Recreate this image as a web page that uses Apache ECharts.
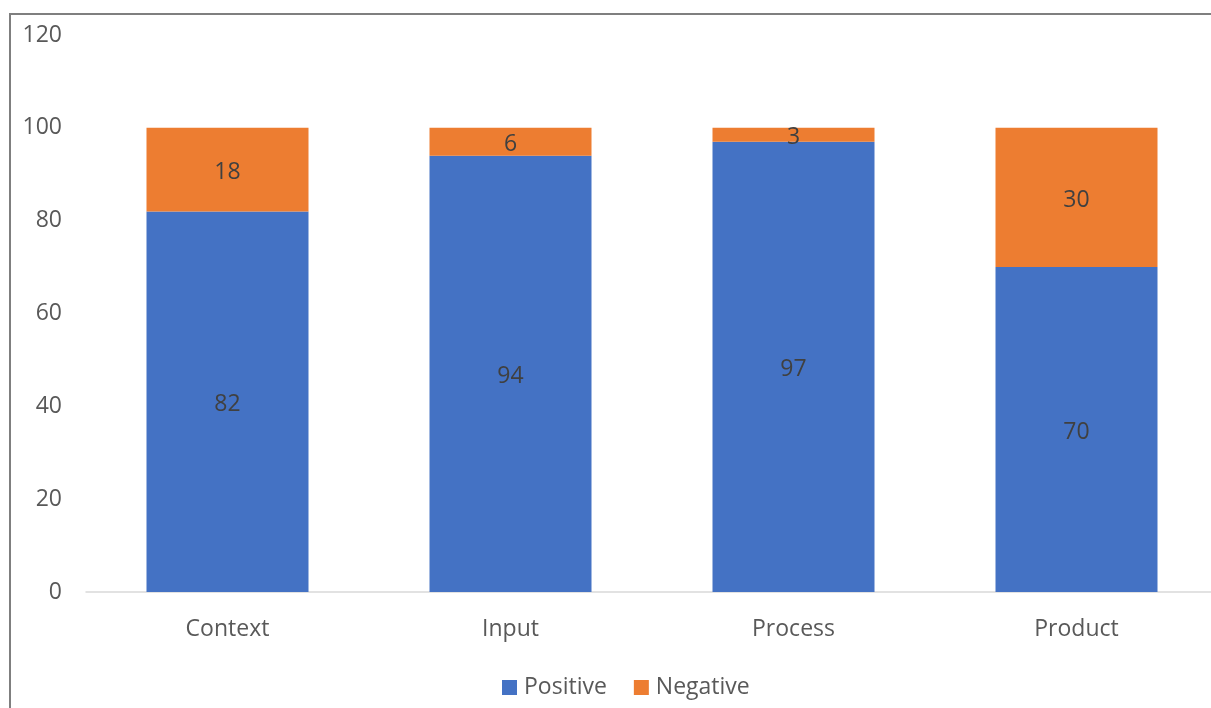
<!DOCTYPE html>
<html>
<head>
<meta charset="utf-8">
<script src="https://cdn.jsdelivr.net/npm/echarts@6/dist/echarts.min.js"></script>
<style>
  html, body { margin: 0; padding: 0; background: #fff; overflow: hidden; }
  #frame { position: absolute; left: 9px; top: 13px; width: 1300px; height: 800px;
           border-top: 2px solid #7f7f7f; border-left: 2px solid #7f7f7f; }
  #chart { position: absolute; left: 0; top: 0; width: 1240px; height: 708px; }
</style>
</head>
<body>
<div id="frame"></div>
<div id="chart"></div>
<script>
// Survey dimensions and the share of positive / negative responses
const categories = ['Context', 'Input', 'Process', 'Product'];
const positive = [82, 94, 97, 70];
const negative = [18, 6, 3, 30];
const yTicks = { min: 0, max: 120, interval: 20 };

const font = '"Open Sans", "Noto Sans", sans-serif';
const chart = echarts.init(document.getElementById('chart'));

const labelStyle = {
  show: true,
  position: 'inside',
  offset: [0, 3],
  color: '#404040',
  fontSize: 23,
  fontFamily: font
};

chart.setOption({
  animation: false,
  // plot area runs slightly past the right edge of the visible page
  grid: { left: 86, right: 22, top: 35, bottom: 116, containLabel: false },
  legend: {
    top: 676,
    left: 502,
    padding: 0,
    itemWidth: 15,
    itemHeight: 15,
    itemGap: 27,
    icon: 'rect',
    textStyle: { color: '#595959', fontSize: 23, fontFamily: font, padding: [0, 0, 0, 2] }
  },
  xAxis: {
    type: 'category',
    data: categories,
    axisLine: { lineStyle: { color: '#d9d9d9', width: 1.5 } },
    axisTick: { show: false },
    axisLabel: { color: '#595959', fontSize: 23, fontFamily: font, margin: 26 }
  },
  yAxis: {
    type: 'value',
    min: yTicks.min,
    max: yTicks.max,
    interval: yTicks.interval,
    axisLine: { show: false },
    axisTick: { show: false },
    splitLine: { show: false },
    axisLabel: { color: '#595959', fontSize: 23, fontFamily: font, margin: 24, padding: [4, 0, 0, 0] }
  },
  series: [
    {
      name: 'Positive',
      type: 'bar',
      stack: 'total',
      data: positive,
      barWidth: 162,
      itemStyle: { color: '#4472c4' },
      label: labelStyle
    },
    {
      name: 'Negative',
      type: 'bar',
      stack: 'total',
      data: negative,
      barWidth: 162,
      itemStyle: { color: '#ed7d31' },
      label: labelStyle
    }
  ]
});
</script>
</body>
</html>
